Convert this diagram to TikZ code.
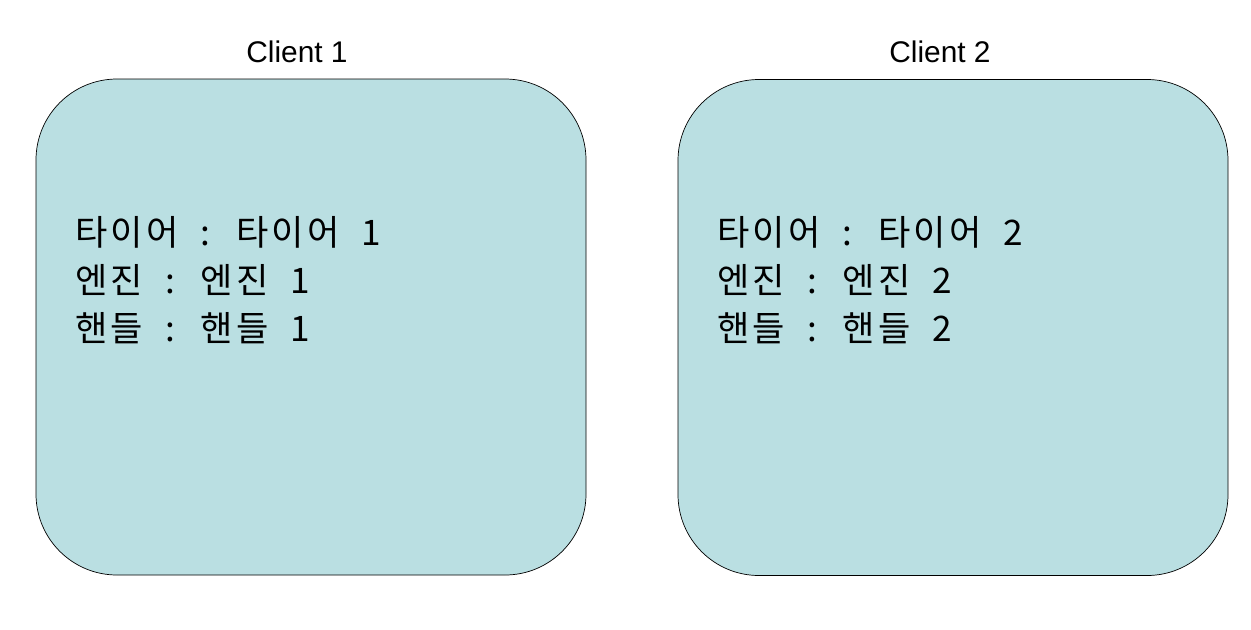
\documentclass[tikz,border=0pt]{standalone}
\usepackage{fontspec}
\setmainfont{Liberation Sans}
\newfontfamily\kofont[LetterSpace=9,WordSpace=2.0]{Noto Sans CJK KR}
\usepackage{tikz}
\usetikzlibrary{positioning}
\definecolor{ClientTeal}{RGB}{186,223,226}

\tikzset{
  clientbox/.style={draw=black,fill=ClientTeal,thin,rounded corners=1.62cm,
    minimum width=11cm,minimum height=9.92cm},
  clienttitle/.style={font=\fontsize{17}{20}\selectfont,anchor=base},
  partline/.style={font=\kofont\fontsize{20}{24}\selectfont,anchor=base west,inner sep=0pt}
}

\begin{document}
\begin{tikzpicture}
  \useasboundingbox (0,0) rectangle (25.02,-12.58);
  % the two clients
  \node[clientbox] (client1) at (6.22,-6.54) {};
  \node[clientbox] (client2) at (19.06,-6.55) {};
  \node[clienttitle] (title1) at (5.94,-1.24) {Client 1};
  \node[clienttitle] (title2) at (18.80,-1.24) {Client 2};
  % parts of client 1
  \node[partline] (tire1) at (1.5,-4.90) {타이어 : 타이어 1};
  \node[partline] (engine1) at (1.5,-5.86) {엔진 : 엔진 1};
  \node[partline] (handle1) at (1.5,-6.82) {핸들 : 핸들 1};
  % parts of client 2
  \node[partline] (tire2) at (14.34,-4.90) {타이어 : 타이어 2};
  \node[partline] (engine2) at (14.34,-5.86) {엔진 : 엔진 2};
  \node[partline] (handle2) at (14.34,-6.82) {핸들 : 핸들 2};
\end{tikzpicture}
\end{document}
